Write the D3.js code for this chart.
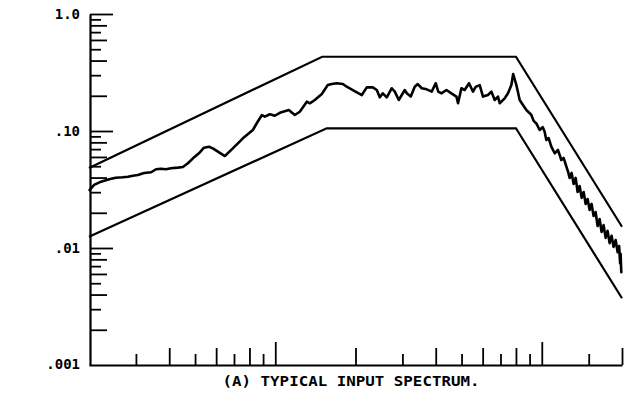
<!DOCTYPE html>
<html>
<head>
<meta charset="utf-8">
<script src="https://cdn.jsdelivr.net/npm/d3@7/dist/d3.min.js"></script>
<style>
  html, body { margin: 0; padding: 0; background: #fff; }
  svg { display: block; }
  text { font-family: "DejaVu Sans Mono", "Liberation Mono", monospace; fill: #000; font-weight: bold; }
</style>
</head>
<body>
<svg id="chart" width="631" height="403"></svg>
<script>
// Measured input spectrum: frequency (Hz) and PSD (g^2/Hz)
const specFreq = [
  20.1, 20.9, 22.2, 23.8, 25.2, 26.8, 28.0, 29.2, 30.5, 32.2, 34.2, 35.7, 37.2, 38.9, 40.6, 43.1, 45.0, 47.0, 49.1, 51.7, 54.0, 56.4,
  58.3, 64.7, 69.3, 75.6, 82.4, 85.3, 89.1, 91.4, 95.4, 99.6, 104, 112.4, 118.4, 123.6, 131.3, 134.8, 140.7, 149.5, 157.4,
  163, 170.2, 179.2, 185.5, 195.4, 211.2, 220.5, 232.2, 240.4, 246.7, 253.2, 262.1, 273.6, 280.8, 290.7, 306.1, 311.5, 322.4, 333.7, 342.5, 354.5, 370.1, 386.4, 400, 408.7,
  420.2, 438.7, 458.1, 478.3, 485, 499.4, 513.8, 533.3, 552, 565, 584.9, 601.8, 628.3, 647.1, 665.8, 685, 695.1, 725.8, 746.8, 769, 781.1, 803, 826.2, 850, 875.4, 900.7,
  914, 932.3, 954.3, 981.9, 1007.7, 1025, 1040, 1061, 1086, 1118, 1150, 1184, 1208, 1237,
  1256, 1272, 1294, 1317, 1340, 1363, 1387, 1411, 1436, 1461, 1486, 1512, 1538, 1565, 1592, 1620, 1648, 1677, 1706, 1736,
  1766, 1797, 1828, 1860, 1893, 1926, 1951, 1968, 1976, 1988
];
const specPsd = [
  0.0313, 0.0346, 0.0369, 0.0387, 0.0399, 0.0402, 0.0407, 0.0415, 0.0421, 0.0438, 0.0444, 0.0471, 0.0476, 0.0471, 0.0480, 0.0486, 0.0492, 0.0530, 0.0584, 0.0645, 0.0720, 0.0734,
  0.0711, 0.0611, 0.0711, 0.0866, 0.102, 0.117, 0.137, 0.1325, 0.139, 0.135, 0.143, 0.151, 0.137, 0.146, 0.178, 0.1725, 0.184, 0.207, 0.247,
  0.252, 0.256, 0.252, 0.239, 0.224, 0.203, 0.236, 0.236, 0.224, 0.194, 0.210, 0.194, 0.232, 0.217, 0.184, 0.224, 0.210, 0.197, 0.239, 0.252, 0.232, 0.227, 0.217, 0.256, 0.217,
  0.210, 0.224, 0.210, 0.197, 0.1725, 0.232, 0.224, 0.256, 0.217, 0.238, 0.247, 0.197, 0.203, 0.217, 0.184, 0.197, 0.1725, 0.190, 0.210, 0.247, 0.307, 0.247, 0.184, 0.167, 0.151, 0.142,
  0.137, 0.122, 0.116, 0.102, 0.108, 0.0986, 0.0838, 0.0871, 0.0734, 0.0645, 0.0688, 0.0565, 0.0588, 0.0495,
  0.0446, 0.0397, 0.0438, 0.0352, 0.0397, 0.0301, 0.0339, 0.0268, 0.0301, 0.0238, 0.0262, 0.0211, 0.0238, 0.0188, 0.0203, 0.0154, 0.0177, 0.0137, 0.0157, 0.0122,
  0.0140, 0.0110, 0.0127, 0.0102, 0.0117, 0.0092, 0.0104, 0.0074, 0.0089, 0.0062
];

// Tolerance envelope breakpoints
const upperFreq = [20, 150, 800, 2000];
const upperPsd  = [0.0483, 0.431, 0.431, 0.0152];
const lowerFreq = [20, 156, 800, 2000];
const lowerPsd  = [0.0125, 0.1055, 0.1055, 0.00372];

// Axis ticks
const xTickFreqs = [30, 40, 50, 60, 70, 80, 90, 100, 200, 300, 400, 500, 600, 700, 800, 900, 1000, 1500, 2000];
const yTickValues = [
  0.002, 0.003, 0.004, 0.005, 0.006, 0.007, 0.008, 0.009, 0.01,
  0.02, 0.03, 0.04, 0.05, 0.06, 0.07, 0.08, 0.09, 0.1,
  0.2, 0.3, 0.4, 0.5, 0.6, 0.7, 0.8, 0.9, 1.0
];
const yDecadeValues = [0.001, 0.01, 0.1, 1.0];
const yDecadeLabels = [".001", ".01", ".10", "1.0"];
const caption = "(A) TYPICAL INPUT SPECTRUM.";

const svg = d3.select("#chart");
const x = d3.scaleLog().domain([20, 2000]).range([89, 622]);
const y = d3.scaleLog().domain([0.001, 1]).range([365, 14]);

// tick length: decades longest, even mantissas long, odd ones short
function tickLen(v) {
  const p = Math.pow(10, Math.floor(Math.log10(v) + 1e-9));
  const m = v / p;
  if (Math.abs(m - 1) < 1e-6) return 23;
  if (Math.abs(m - Math.round(m)) < 1e-6 && Math.round(m) % 2 === 0) return 17;
  return 11;
}

const ink = "#000";

// Y axis
const yLabelOf = v => {
  const i = yDecadeValues.findIndex(d => Math.abs(d - v) / v < 1e-6);
  return i >= 0 ? yDecadeLabels[i] : "";
};
const yAxis = d3.axisLeft(y)
  .tickValues(yTickValues)
  .tickSizeInner(-17)
  .tickSizeOuter(0)
  .tickPadding(10)
  .tickFormat(yLabelOf);
const gy = svg.append("g").attr("transform", "translate(90,0)").call(yAxis);
gy.select(".domain").attr("stroke", ink).attr("stroke-width", 2.2);
gy.selectAll(".tick line")
  .attr("stroke", ink).attr("stroke-width", 1.8)
  .attr("x2", d => tickLen(d));
gy.selectAll(".tick text")
  .attr("font-size", 14)
  .attr("font-family", "'DejaVu Sans Mono', monospace")
  .attr("font-weight", "bold")
  .attr("fill", ink);
// label for the bottom decade sits on the x axis line
gy.append("text")
  .attr("x", -10).attr("y", y(0.001)).attr("dy", "0.32em")
  .attr("text-anchor", "end").attr("font-size", 14)
  .text(yDecadeLabels[0]);

// X axis (unlabelled log frequency ticks pointing up)
const xAxis = d3.axisBottom(x)
  .tickValues(xTickFreqs)
  .tickSizeInner(-17)
  .tickSizeOuter(0)
  .tickFormat("");
const gx = svg.append("g").attr("transform", `translate(0,${y(0.001)})`).call(xAxis);
gx.select(".domain").attr("stroke", ink).attr("stroke-width", 2.2);
gx.selectAll(".tick line")
  .attr("stroke", ink).attr("stroke-width", 1.8)
  .attr("y2", d => -tickLen(d));

// Lines
const line = d3.line().x(d => x(d[0])).y(d => y(d[1]));
const pairs = (fs, vs) => fs.map((f, i) => [f, vs[i]]);

svg.append("path")
  .datum(pairs(upperFreq, upperPsd))
  .attr("d", line).attr("fill", "none")
  .attr("stroke", ink).attr("stroke-width", 2.2);
svg.append("path")
  .datum(pairs(lowerFreq, lowerPsd))
  .attr("d", line).attr("fill", "none")
  .attr("stroke", ink).attr("stroke-width", 2.2);
svg.append("path")
  .datum(pairs(specFreq, specPsd))
  .attr("d", line).attr("fill", "none")
  .attr("stroke", ink).attr("stroke-width", 2.6)
  .attr("stroke-linejoin", "round").attr("stroke-linecap", "round");

// Caption
svg.append("text")
  .attr("x", 351).attr("y", 386)
  .attr("text-anchor", "middle")
  .attr("font-size", 14)
  .attr("textLength", 257)
  .attr("lengthAdjust", "spacingAndGlyphs")
  .text(caption);
</script>
</body>
</html>
